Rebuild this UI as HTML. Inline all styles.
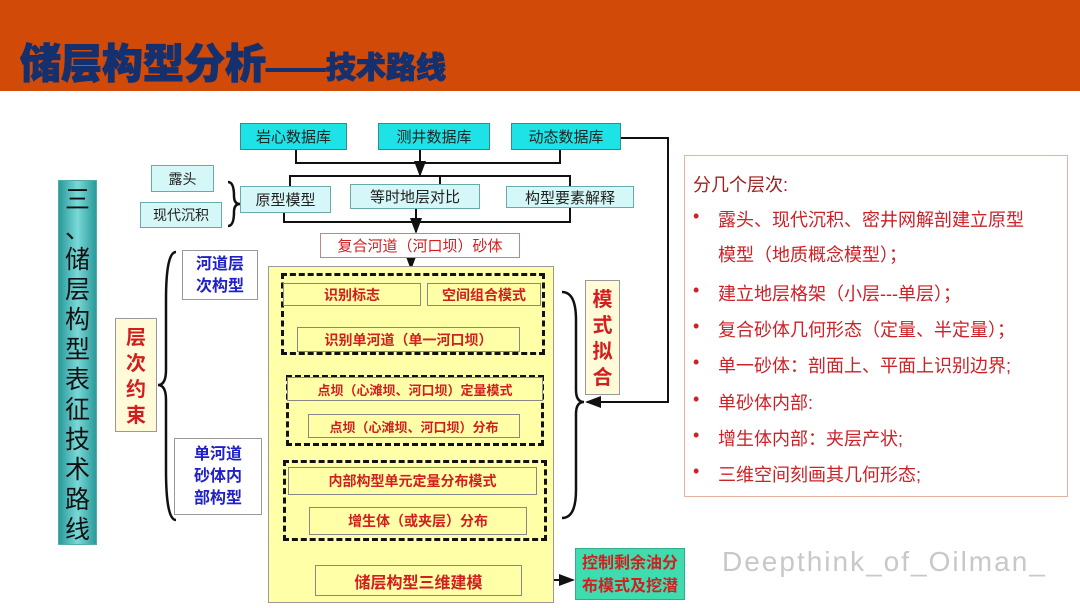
<!DOCTYPE html>
<html><head><meta charset="utf-8"><style>
body{margin:0;width:1080px;height:608px;position:relative;overflow:hidden;background:#fff;font-family:"Liberation Sans","Noto Sans CJK SC",sans-serif}
.b{position:absolute;box-sizing:border-box;display:flex;align-items:center;justify-content:center;white-space:nowrap;font-weight:bold}
.v{position:absolute;box-sizing:border-box;text-align:center;font-weight:bold;white-space:nowrap}
.c{background:#1de3e6;border:1px solid #3a8a8a;font-size:15px;color:#222;font-weight:normal}
.lc{background:#d6f7f7;border:1px solid #6aa;font-size:15px;color:#222;font-weight:normal}
.y{background:#ffffa8;border:1px solid #888;color:#d21e1e;font-size:14px}
.dash{position:absolute;border:3px dashed #111;box-sizing:border-box}
.p{position:absolute;left:718px;font-size:18px;color:#cc2127;white-space:nowrap}
.d{position:absolute;left:693px;font-size:18px;color:#cc2127}
</style></head><body>
<div style="position:absolute;left:0;top:0;width:1080px;height:91px;background:#d24a08"></div>
<div style="position:absolute;left:20px;top:30px;font-size:41px;font-weight:900;color:#15306e;white-space:nowrap;-webkit-text-stroke:1px #15306e">储层构型分析<span style="font-size:30px">——技术路线</span></div>

<svg style="position:absolute;left:0;top:0" width="1080" height="608">
<defs><marker id="a" markerWidth="8" markerHeight="8" refX="7" refY="4" orient="auto"><path d="M0,1 L8,4 L0,7z" fill="#111"/></marker></defs>
<g stroke="#111" stroke-width="2" fill="none">
<path d="M296,150 V163 H560 V150 M420,150 V163"/>
<path d="M420,163 V175" marker-end="url(#a)"/>
<path d="M290,186 V176 H570 V186 M440,176 V184"/>
<path d="M284,213 V222 H570 V208 M416,208 V232" marker-end="url(#a)"/>
<path d="M621,138 H668 V402 H587" marker-end="url(#a)"/>
<path d="M411,258 V268" marker-end="url(#a)"/>
<path d="M336,283 V272 H482 V283 M336,306 V316 H482 V306"/>
<path d="M411,316 V326" marker-end="url(#a)"/>
<path d="M413,355 V373" marker-end="url(#a)"/>
<path d="M413,401 V413" marker-end="url(#a)"/>
<path d="M411,446 V460" marker-end="url(#a)"/>
<path d="M413,495 V506" marker-end="url(#a)"/>
<path d="M411,541 V564" marker-end="url(#a)"/>
<path d="M522,580 H573" marker-end="url(#a)"/>
<path d="M228,182 Q234,182 234,196 Q234,204 240,204 Q234,204 234,212 Q234,226 228,226" stroke-width="2.5"/>
<path d="M176,252 Q166,252 166,300 L166,370 Q166,385 158,385 Q166,385 166,400 L166,470 Q166,520 176,520" stroke-width="2.5"/>
<path d="M562,292 Q576,292 576,320 L576,390 Q576,402 584,402 Q576,402 576,414 L576,490 Q576,518 562,518" stroke-width="2.5"/>
</g></svg>

<div class="b c" style="left:240px;top:123px;width:107px;height:27px">岩心数据库</div>
<div class="b c" style="left:378px;top:123px;width:112px;height:27px">测井数据库</div>
<div class="b c" style="left:511px;top:123px;width:110px;height:27px">动态数据库</div>
<div class="b lc" style="left:240px;top:186px;width:91px;height:27px">原型模型</div>
<div class="b lc" style="left:350px;top:184px;width:130px;height:25px">等时地层对比</div>
<div class="b lc" style="left:506px;top:186px;width:128px;height:22px">构型要素解释</div>
<div class="b lc" style="left:151px;top:165px;width:63px;height:27px;font-size:14px">露头</div>
<div class="b lc" style="left:140px;top:202px;width:82px;height:26px;font-size:14px">现代沉积</div>
<div class="b" style="left:320px;top:233px;width:200px;height:25px;background:#fff;border:1px solid #b88;color:#d21e1e;font-size:15px;font-weight:normal">复合河道（河口坝）砂体</div>

<div style="position:absolute;left:268px;top:266px;width:286px;height:337px;background:#ffffa8;border:1px solid #999;box-sizing:border-box"></div>
<div class="dash" style="left:281px;top:273px;width:264px;height:82px"></div>
<div class="dash" style="left:286px;top:375px;width:258px;height:71px"></div>
<div class="dash" style="left:283px;top:460px;width:264px;height:81px"></div>
<div class="b y" style="left:283px;top:283px;width:138px;height:23px">识别标志</div>
<div class="b y" style="left:427px;top:283px;width:114px;height:23px">空间组合模式</div>
<div class="b y" style="left:297px;top:327px;width:223px;height:25px">识别单河道（单一河口坝）</div>
<div class="b y" style="left:287px;top:377px;width:256px;height:24px;font-size:13px">点坝（心滩坝、河口坝）定量模式</div>
<div class="b y" style="left:308px;top:414px;width:212px;height:24px;font-size:13px">点坝（心滩坝、河口坝）分布</div>
<div class="b y" style="left:288px;top:467px;width:249px;height:28px">内部构型单元定量分布模式</div>
<div class="b y" style="left:309px;top:507px;width:218px;height:28px">增生体（或夹层）分布</div>
<div class="b y" style="left:315px;top:565px;width:207px;height:31px;font-size:16px">储层构型三维建模</div>
<div class="v" style="left:575px;top:548px;width:110px;height:52px;background:#3fdcb0;border:1px solid #3a8;color:#d21e1e;font-size:16px;line-height:23px;padding-top:3px">控制剩余油分<br>布模式及挖潜</div>
<div style="position:absolute;left:722px;top:546px;font-size:28px;color:#c8c8c8;letter-spacing:2px;white-space:nowrap">Deepthink_of_Oilman_</div>

<div class="v" style="left:585px;top:280px;width:35px;height:115px;background:#fffbd8;border:1px solid #999;color:#d21e1e;font-size:20px;line-height:26px;padding-top:6px">模<br>式<br>拟<br>合</div>
<div class="v" style="left:115px;top:318px;width:42px;height:114px;background:#fffbd8;border:1px solid #999;color:#d21e1e;font-size:20px;line-height:26px;padding-top:6px">层<br>次<br>约<br>束</div>
<div class="v" style="left:182px;top:250px;width:76px;height:50px;background:#fff;border:1px solid #999;color:#2020c8;font-size:16px;line-height:22px;padding-top:3px">河道层<br>次构型</div>
<div class="v" style="left:174px;top:438px;width:88px;height:77px;background:#fff;border:1px solid #999;color:#2020c8;font-size:16px;line-height:22px;padding-top:5px">单河道<br>砂体内<br>部构型</div>
<div class="v" style="left:58px;top:180px;width:39px;height:365px;background:linear-gradient(90deg,#2a9a9a,#7ad8d8 50%,#2a9a9a);border:1px solid #5aa;color:#111;font-size:25px;font-weight:normal;line-height:30px;padding-top:4px">三<br>、<br>储<br>层<br>构<br>型<br>表<br>征<br>技<br>术<br>路<br>线</div>

<div style="position:absolute;left:684px;top:155px;width:384px;height:342px;border:1px solid #e8b0a0;box-sizing:border-box"></div>
<div style="position:absolute;left:693px;top:171px;font-size:18px;color:#a02020">分几个层次:</div>
<div class="d" style="top:206px">•</div><div class="p" style="top:206px">露头、现代沉积、密井网解剖建立原型</div>
<div class="p" style="top:241px">模型（地质概念模型）；</div>
<div class="d" style="top:280px">•</div><div class="p" style="top:280px">建立地层格架（小层---单层）；</div>
<div class="d" style="top:316px">•</div><div class="p" style="top:316px">复合砂体几何形态（定量、半定量）；</div>
<div class="d" style="top:352px">•</div><div class="p" style="top:352px">单一砂体：剖面上、平面上识别边界;</div>
<div class="d" style="top:389px">•</div><div class="p" style="top:389px">单砂体内部:</div>
<div class="d" style="top:425px">•</div><div class="p" style="top:425px">增生体内部：夹层产状;</div>
<div class="d" style="top:461px">•</div><div class="p" style="top:461px">三维空间刻画其几何形态;</div>
</body></html>
